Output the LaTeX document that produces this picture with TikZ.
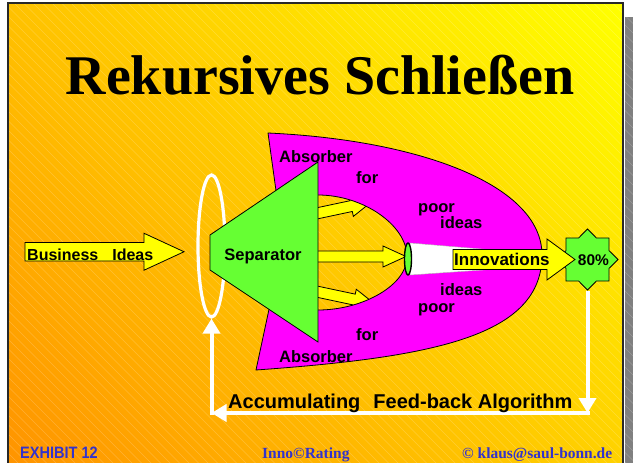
\documentclass[tikz,border=0pt]{standalone}
\usepackage{fontspec}
\setmainfont{Liberation Serif}
\setsansfont{Liberation Sans}
\newfontfamily\narrowsans[FakeStretch=0.88]{Liberation Sans}
\usetikzlibrary{shapes.geometric,arrows.meta}

\definecolor{bgorange}{RGB}{255,148,0}
\definecolor{bgyellow}{RGB}{255,255,0}
\definecolor{absorber}{RGB}{255,0,255}
\definecolor{sepgreen}{RGB}{102,255,51}
\definecolor{arrowyellow}{RGB}{255,255,0}
\definecolor{footerblue}{RGB}{51,51,204}
\definecolor{shadowgray}{RGB}{128,128,128}
\definecolor{framegray}{RGB}{40,40,40}

% slide background: orange (lower left) to yellow (upper right)
\pgfdeclareverticalshading{slidebg}{100bp}{color(0bp)=(bgorange); color(15bp)=(bgorange); color(85bp)=(bgyellow); color(100bp)=(bgyellow)}

\tikzset{
  blockarrow/.style={fill=arrowyellow, draw=black, line width=0.8pt, line join=miter},
  pics/yarrow/.style n args={4}{code={
    % #1 length, #2 half shaft width, #3 half head width, #4 head length
    \path[blockarrow] (0,#2) -- ({#1-#4},#2) -- ({#1-#4},#3) -- (#1,0)
      -- ({#1-#4},-#3) -- ({#1-#4},-#2) -- (0,-#2) -- cycle;
  }},
  dlabel/.style={font=\sffamily\bfseries\fontsize{16.5}{18}\selectfont, inner sep=0pt, anchor=base west},
  feedback/.style={draw=white, line width=4pt, -{Triangle[width=17pt,length=15pt]}},
  footserif/.style={font=\rmfamily\bfseries\fontsize{15.5}{17}\selectfont, text=footerblue, inner sep=0pt, anchor=base west},
  hatch/.style={white, opacity=0.2, line width=0.45pt},
}

\begin{document}
\begin{tikzpicture}[x=1pt, y=-1pt]
  \useasboundingbox (0,0) rectangle (633,463);
  \clip (0,0) rectangle (633,463);
  \fill[white] (0,0) rectangle (633,463);

  % drop shadow of the slide
  \fill[shadowgray] (624.5,17) rectangle (633,470);
  \begin{scope}
    \clip (624.5,17) rectangle (633,470);
    \foreach \i in {-480,-470.5,...,640} \draw[hatch] (\i,3) -- ++(470,470);
  \end{scope}

  % slide background with fine diagonal hatching
  \shade[shading=slidebg, shading angle=-45] (8,3) rectangle (623,470);
  \begin{scope}
    \clip (8,3) rectangle (623,470);
    \foreach \i in {-480,-470.5,...,640} \draw[hatch] (\i,3) -- ++(470,470);
  \end{scope}
  \draw[framegray, line width=1.6pt] (8,3) rectangle (623,470);

  % title
  \node[font=\rmfamily\bfseries\fontsize{56}{60}\selectfont, anchor=base, inner sep=0pt] (title) at (320,94) {Rekursives Schließen};

  % input arrow
  \pic (bizarrow) at (25,251.75) {yarrow={159}{9.25}{18.5}{40}};
  \node[dlabel, font=\sffamily\bfseries\fontsize{16}{18}\selectfont] (biz) at (27,260) {Business\hspace{14pt}Ideas};

  % white loop ring
  \node[ellipse, draw=white, line width=3.2pt, minimum width=27, minimum height=142, inner sep=0pt] (loop) at (211.5,246) {};

  % arrows leaving the separator
  \pic (uparrow) [rotate=12] at (314,214) {yarrow={59}{5.5}{10.5}{21}};
  \pic (midarrow) at (314,256.5) {yarrow={92}{5.5}{10.5}{23}};
  \pic (lowarrow) [rotate=-12] at (314,291) {yarrow={62}{5.5}{10.5}{21}};

  % absorber band
  \path[fill=absorber, draw=black, line width=0.8pt, line join=round]
    (268,133) .. controls (420,140) and (542,185) .. (542,255)
    .. controls (542,335) and (438,357) .. (256,370)
    -- (271,300) -- (318,310)
    .. controls (363,310) and (407,285) .. (407,257)
    .. controls (407,225) and (363,195) .. (318,195)
    -- (278,205) -- cycle;

  % funnel towards the output
  \path[fill=white, draw=gray!60, line width=0.4pt] (410,243) -- (541,254) -- (541,266) -- (410,275) -- cycle;
  \node[ellipse, fill=sepgreen, draw=black, line width=1.4pt, minimum width=7, minimum height=32, inner sep=0pt] (ring) at (408,259) {};

  % gate and output arrow
  \node[star, star points=8, star point ratio=1.31, minimum size=61, inner sep=0pt, fill=sepgreen, draw=black, line width=0.8pt] (gate) at (587.5,259.5) {};
  \pic (innarrow) at (453,259.5) {yarrow={122}{10}{20.5}{28}};

  % feed-back loop
  \coordinate (fbR) at (587.5,413);
  \coordinate (fbL) at (211.5,413);
  \draw[feedback] (gate.south) -- (fbR);
  \draw[feedback, line cap=rect] (fbR) -- (fbL);
  \draw[feedback, line cap=rect] (fbL) -- (loop.south);

  % separator
  \path[fill=sepgreen, draw=black, line width=0.8pt, line join=miter] (210,235) -- (318,162) -- (318,342) -- (210,270) -- cycle;
  \node[dlabel, anchor=base] (sep) at (263,260) {Separator};

  % labels on the absorber
  \node[dlabel] (absT) at (279,162) {Absorber};
  \node[dlabel] (forT) at (356,183) {for};
  \node[dlabel] (poorT) at (418,212) {poor};
  \node[dlabel] (ideasT) at (440,228) {ideas};
  \node[dlabel] (ideasB) at (440,295) {ideas};
  \node[dlabel] (poorB) at (418,312) {poor};
  \node[dlabel] (forB) at (356,340) {for};
  \node[dlabel] (absB) at (279,362) {Absorber};

  \node[dlabel, font=\sffamily\bfseries\fontsize{17}{18}\selectfont] (inn) at (454,265) {Innovations};
  \node[dlabel, anchor=base, font=\sffamily\bfseries\fontsize{15.5}{17}\selectfont] (pct) at (593.5,265.5) {80\%};

  \node[dlabel, font=\sffamily\bfseries\fontsize{20}{22}\selectfont] (algo) at (228,408) {Accumulating\hspace{13pt}Feed-back Algorithm};

  % footer
  \node[inner sep=0pt, anchor=base west, text=footerblue, font=\narrowsans\bfseries\fontsize{16.5}{18}\selectfont] (exhibit) at (20,458) {EXHIBIT 12};
  \node[footserif] (brand) at (262,458) {Inno©Rating};
  \node[footserif] (mail) at (462,458) {© klaus@saul-bonn.de};
\end{tikzpicture}
\end{document}
